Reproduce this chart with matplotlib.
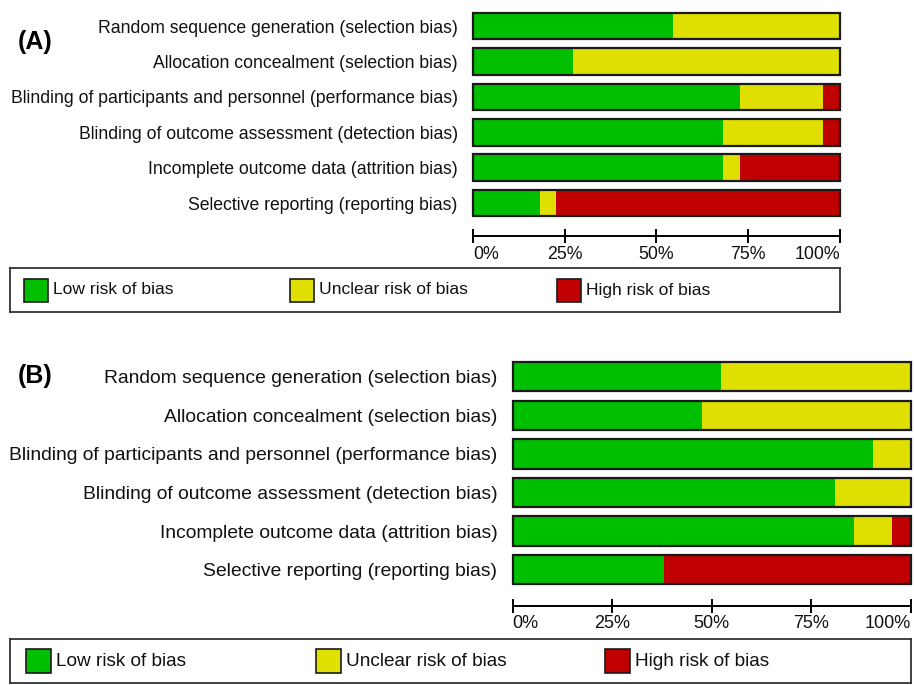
import matplotlib.pyplot as plt
from matplotlib.patches import Rectangle

plt.rcParams['font.family'] = ['Liberation Sans', 'DejaVu Sans']

# risk of bias domains
domains = [
    "Random sequence generation (selection bias)",
    "Allocation concealment (selection bias)",
    "Blinding of participants and personnel (performance bias)",
    "Blinding of outcome assessment (detection bias)",
    "Incomplete outcome data (attrition bias)",
    "Selective reporting (reporting bias)",
]

# panel A, % of studies
low_a = [54.5, 27.3, 72.7, 68.2, 68.2, 18.2]
unclear_a = [45.5, 72.7, 22.7, 27.3, 4.5, 4.5]
high_a = [0.0, 0.0, 4.5, 4.5, 27.3, 77.3]

# panel B, % of studies
low_b = [52.4, 47.6, 90.5, 81.0, 85.7, 38.1]
unclear_b = [47.6, 52.4, 9.5, 19.0, 9.5, 0.0]
high_b = [0.0, 0.0, 0.0, 0.0, 4.8, 61.9]

ticks = [0, 25, 50, 75, 100]
tick_labels = ["0%", "25%", "50%", "75%", "100%"]
legend_labels = ["Low risk of bias", "Unclear risk of bias", "High risk of bias"]
colors = ["#00bf00", "#e0e000", "#c00000"]

W, H = 914, 685


def box(left, top, right, bottom):
    # pixel box -> figure coords [l, b, w, h]
    return [left / W, 1 - bottom / H, (right - left) / W, (bottom - top) / H]


def risk_panel(fig, rect, low, unclear, high, fs, tick_fs, bar_h):
    ax = fig.add_axes(rect)
    y = list(range(len(domains)))
    ax.barh(y, low, height=bar_h, color=colors[0], linewidth=0)
    ax.barh(y, unclear, left=low, height=bar_h, color=colors[1], linewidth=0)
    left_h = [a + b for a, b in zip(low, unclear)]
    ax.barh(y, high, left=left_h, height=bar_h, color=colors[2], linewidth=0)
    # outline around each full bar
    ax.barh(y, [100] * len(y), height=bar_h, fill=False, edgecolor="#1a1a1a",
            linewidth=1.6, clip_on=False)
    ax.set_xlim(0, 100)
    ax.set_ylim(len(y) - 0.07, -0.5)
    ax.set_yticks(y)
    ax.set_yticklabels(domains, fontsize=fs, color="#111111")
    ax.tick_params(axis="y", length=0, pad=11)
    ax.set_xticks(ticks)
    ax.set_xticklabels(tick_labels, fontsize=tick_fs, color="#111111")
    ax.tick_params(axis="x", direction="inout", length=10, width=1.4, pad=2)
    xl = ax.get_xticklabels()
    xl[0].set_horizontalalignment("left")
    xl[-1].set_horizontalalignment("right")
    for s in ["top", "right", "left"]:
        ax.spines[s].set_visible(False)
    ax.spines["bottom"].set_linewidth(1.4)
    return ax


def legend_box(fig, rect, starts, fs, patch_w, patch_h):
    lg = fig.add_axes(rect)
    lg.set_xlim(0, rect[2] * W)
    lg.set_ylim(rect[3] * H, 0)
    lg.set_xticks([])
    lg.set_yticks([])
    for s in lg.spines.values():
        s.set_linewidth(1.3)
        s.set_edgecolor("#333333")
    mid = rect[3] * H / 2
    for x0, lab, c in zip(starts, legend_labels, colors):
        lg.add_patch(Rectangle((x0, mid - patch_h / 2), patch_w, patch_h,
                               facecolor=c, edgecolor="#1a1a1a", linewidth=1.2))
        lg.text(x0 + patch_w + 5, mid, lab, fontsize=fs, va="center",
                ha="left", color="#111111")
    return lg


fig = plt.figure(figsize=(9.14, 6.85), dpi=100)

# (A)
risk_panel(fig, box(473, 8.3, 840, 236), low_a, unclear_a, high_a, 12.7, 12.8, 0.75)
legend_box(fig, box(10, 268, 840, 312), [14, 280, 547], 12.6, 24, 23)
fig.text(18 / W, 1 - 42 / H, "(A)", fontsize=18, fontweight="bold", va="center")

# (B)
risk_panel(fig, box(512.7, 357.3, 911, 605.7), low_b, unclear_b, high_b, 13.9, 13, 0.76)
legend_box(fig, box(10, 639, 911, 683), [16, 306, 595], 13.7, 25, 24)
fig.text(18 / W, 1 - 376 / H, "(B)", fontsize=18, fontweight="bold", va="center")

plt.savefig("out.png", dpi=100)
